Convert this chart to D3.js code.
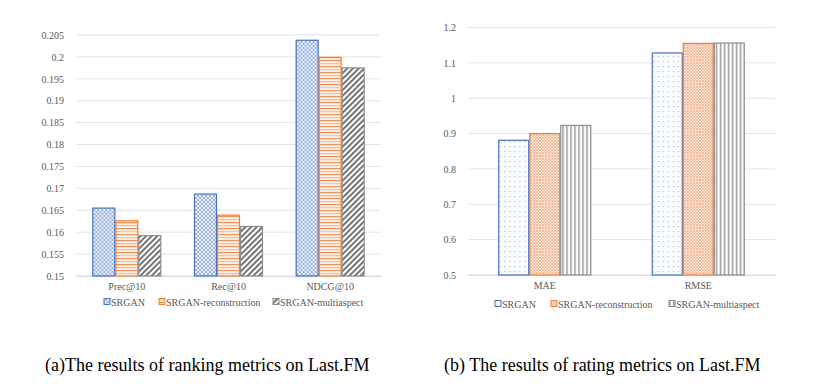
<!DOCTYPE html>
<html>
<head>
<meta charset="utf-8">
<script src="https://cdn.jsdelivr.net/npm/d3@7"></script>
<style>
  body { margin: 0; background: #fff; }
</style>
</head>
<body>
<div class="canvas"></div>
<script>
const series = ['SRGAN', 'SRGAN-reconstruction', 'SRGAN-multiaspect'];

const rankCats = ['Prec@10', 'Rec@10', 'NDCG@10'];
const rankSrgan = [0.1655, 0.1687, 0.2038];
const rankRecon = [0.1626, 0.1639, 0.1999];
const rankMulti = [0.1592, 0.1613, 0.1975];
const rankTicks = [0.15, 0.155, 0.16, 0.165, 0.17, 0.175, 0.18, 0.185, 0.19, 0.195, 0.2, 0.205];

const rateCats = ['MAE', 'RMSE'];
const rateSrgan = [0.881, 1.128];
const rateRecon = [0.900, 1.155];
const rateMulti = [0.923, 1.156];
const rateTicks = [0.5, 0.6, 0.7, 0.8, 0.9, 1, 1.1, 1.2];

const serif = '"Liberation Serif", "Times New Roman", serif';
const fs = 10;

const svg = d3.select('.canvas')
    .append('svg')
    .attr('width', 832)
    .attr('height', 390)
    .style('font-family', serif);

const defs = svg.append('defs');

// bar fill patterns
const addPattern = (id, w, h, draw, bg = '#fff', rotate = 0) => {
    const p = defs.append('pattern')
        .attr('id', id)
        .attr('patternUnits', 'userSpaceOnUse')
        .attr('width', w)
        .attr('height', h);
    if (rotate) p.attr('patternTransform', `rotate(${rotate})`);
    p.append('rect').attr('width', w).attr('height', h).attr('fill', bg);
    draw(p);
};

// left: blue crosshatch, orange horizontal lines, gray diagonal stripes
addPattern('lBlue', 4, 4, p => {
    p.append('path').attr('d', 'M0,0 L4,4 M4,0 L0,4')
        .attr('stroke', '#8eaadb').attr('stroke-width', 0.9);
}, '#eef2fb');
addPattern('lOrange', 6, 6, p => {
    p.append('rect').attr('y', 0).attr('width', 6).attr('height', 1.2).attr('fill', '#e9955e');
    p.append('rect').attr('y', 3).attr('width', 6).attr('height', 1.2).attr('fill', '#f3c4a4');
}, '#fcefe6');
addPattern('lGray', 4, 4, p => {
    p.append('rect').attr('width', 1.8).attr('height', 4).attr('fill', '#666');
}, '#fff', 45);

// right: blue dots, orange fine crosshatch, gray vertical lines
addPattern('rBlue', 5, 5, p => {
    p.append('rect').attr('x', 1).attr('y', 1).attr('width', 1.2).attr('height', 1.2).attr('fill', '#a9bde6');
}, '#fbfcff');
addPattern('rOrange', 3, 3, p => {
    p.append('path').attr('d', 'M0,0 L3,3 M3,0 L0,3')
        .attr('stroke', '#eea77a').attr('stroke-width', 0.8);
}, '#fdf1e9');
addPattern('rGray', 4, 4, p => {
    p.append('rect').attr('width', 1.5).attr('height', 4).attr('fill', '#9a9a9a');
});

const strokes = ['#4472c4', '#ed7d31', '#8c8c8c'];

const drawChart = (opt) => {
    const { x0, x1, yTop, yBot, cats, vals, ticks, fills, fmt, barW, legend } = opt;

    const x = d3.scaleBand().domain(cats).range([x0, x1]);
    const xs = d3.scaleBand().domain(series).range([0, barW * 3]);
    const y = d3.scaleLinear().domain([ticks[0], ticks[ticks.length - 1]]).range([yBot, yTop]);

    const g = svg.append('g');

    // gridlines
    g.selectAll('line.grid')
        .data(ticks)
        .enter()
        .append('line')
        .attr('x1', x0).attr('x2', x1)
        .attr('y1', d => y(d)).attr('y2', d => y(d))
        .attr('stroke', '#e3e3e3')
        .attr('stroke-width', 1);

    // axes
    const yAxis = g.append('g')
        .attr('transform', `translate(${x0 - 9},0)`)
        .call(d3.axisLeft(y).tickValues(ticks).tickFormat(fmt).tickSize(0))
        .attr('font-family', serif)
        .attr('font-size', fs);
    yAxis.select('.domain').remove();
    yAxis.selectAll('text').attr('fill', '#595959');

    const xAxis = g.append('g')
        .attr('transform', `translate(0,${yBot})`)
        .call(d3.axisBottom(x).tickSize(0).tickPadding(7))
        .attr('font-family', serif)
        .attr('font-size', fs);
    xAxis.select('.domain').attr('stroke', '#d9d9d9');
    xAxis.selectAll('text').attr('fill', '#595959');

    // bars
    const groups = g.selectAll('g.grp')
        .data(cats)
        .enter()
        .append('g')
        .attr('transform', d => `translate(${x(d) + x.bandwidth() / 2 - barW * 1.5},0)`);

    groups.selectAll('rect')
        .data((c, i) => series.map((s, k) => ({ s, k, v: vals[k][i] })))
        .enter()
        .append('rect')
        .attr('x', d => xs(d.s) + 0.5)
        .attr('y', d => y(d.v))
        .attr('width', xs.bandwidth() - 1)
        .attr('height', d => yBot - y(d.v))
        .attr('fill', d => `url(#${fills[d.k]})`)
        .attr('stroke', d => strokes[d.k])
        .attr('stroke-width', 1.2);

    // legend
    const lg = g.selectAll('g.leg')
        .data(series)
        .enter()
        .append('g')
        .attr('transform', (d, i) => `translate(${legend.xs[i]},${legend.y})`);
    lg.append('rect')
        .attr('x', 0).attr('y', -3.5)
        .attr('width', 6).attr('height', 6)
        .attr('fill', (d, i) => `url(#${fills[i]})`)
        .attr('stroke', (d, i) => strokes[i])
        .attr('stroke-width', 1);
    lg.append('text')
        .attr('x', 7)
        .attr('dy', '0.35em')
        .attr('fill', '#595959')
        .attr('font-family', serif)
        .attr('font-size', fs)
        .text(d => d);
};

drawChart({
    x0: 76, x1: 381, yTop: 35, yBot: 276,
    cats: rankCats,
    vals: [rankSrgan, rankRecon, rankMulti],
    ticks: rankTicks,
    fills: ['lBlue', 'lOrange', 'lGray'],
    fmt: d => d3.format('')(+d.toFixed(3)),
    barW: 23,
    legend: { y: 302, xs: [104, 159, 273] }
});

drawChart({
    x0: 468, x1: 775, yTop: 27.5, yBot: 275,
    cats: rateCats,
    vals: [rateSrgan, rateRecon, rateMulti],
    ticks: rateTicks,
    fills: ['rBlue', 'rOrange', 'rGray'],
    fmt: d => d3.format('')(+d.toFixed(1)),
    barW: 31,
    legend: { y: 304, xs: [495, 551, 669] }
});

// captions
const captions = [
    { x: 45, text: '(a)The results of ranking metrics on Last.FM' },
    { x: 444, text: '(b) The results of rating metrics on Last.FM' }
];
svg.selectAll('text.cap')
    .data(captions)
    .enter()
    .append('text')
    .attr('x', d => d.x)
    .attr('y', 371)
    .attr('fill', '#000')
    .attr('font-family', serif)
    .attr('font-size', 18)
    .text(d => d.text);
</script>
</body>
</html>
